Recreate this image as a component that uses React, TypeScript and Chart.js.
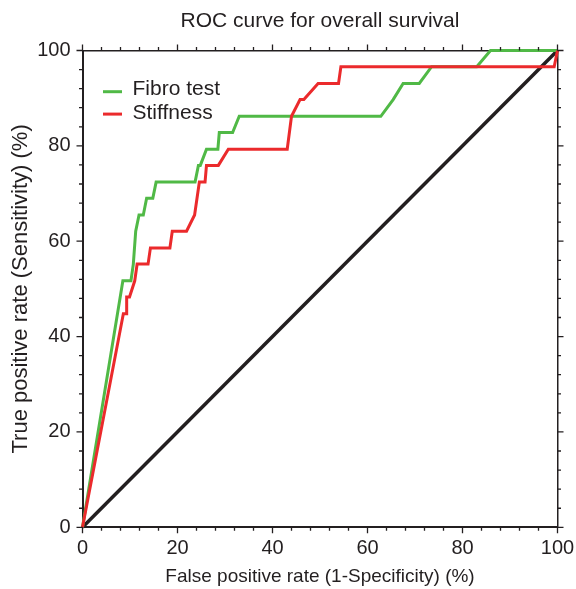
import { useEffect, useRef } from 'react';
import { Chart, registerables } from 'chart.js';

Chart.register(...registerables);

const chartTitle = 'ROC curve for overall survival';
const xAxisTitle = 'False positive rate (1-Specificity) (%)';
const yAxisTitle = 'True positive rate (Sensitivity) (%)';

const fibroLabel = 'Fibro test';
const fibroFpr = [0, 8.5, 10.2, 10.7, 11.2, 11.9, 12.8, 13.5, 14.8, 15.5, 23.7, 24.4, 24.8, 26.1, 28.5, 28.8, 31.6, 33.0, 62.8, 65.4, 67.5, 70.9, 73.5, 83.0, 85.9, 100];
const fibroTpr = [0, 51.7, 51.7, 55.2, 62.1, 65.5, 65.5, 69.0, 69.0, 72.4, 72.4, 75.9, 75.9, 79.3, 79.3, 82.8, 82.8, 86.2, 86.2, 89.7, 93.1, 93.1, 96.6, 96.6, 100, 100];

const stiffLabel = 'Stiffness';
const stiffFpr = [0, 8.6, 9.2, 9.3, 9.9, 11.0, 11.5, 13.8, 14.3, 18.4, 18.9, 21.9, 23.6, 24.6, 25.8, 26.1, 28.6, 30.7, 43.1, 44.0, 45.8, 46.6, 49.6, 53.9, 54.4, 99.3, 100];
const stiffTpr = [0, 44.8, 44.8, 48.3, 48.3, 51.7, 55.2, 55.2, 58.6, 58.6, 62.1, 62.1, 65.5, 72.4, 72.4, 75.9, 75.9, 79.3, 79.3, 86.2, 89.7, 89.7, 93.1, 93.1, 96.6, 96.6, 100];

const refFpr = [0, 100];
const refTpr = [0, 100];

const majorTicks = [0, 20, 40, 60, 80, 100];
const allTicks = [0, 4, 8, 12, 16, 20, 24, 28, 32, 36, 40, 44, 48, 52, 56, 60, 64, 68, 72, 76, 80, 84, 88, 92, 96, 100];

const INK = '#231f20';
const GREEN = '#50b946';
const RED = '#eb2a2c';
const FONT = "'Liberation Sans', Arial, Helvetica, sans-serif";

const toPoints = (xs: number[], ys: number[]) => xs.map((x, i) => ({ x, y: ys[i] }));

const boxTicksPlugin = {
  id: 'boxTicks',
  afterDraw(chart: any) {
    const { ctx, chartArea: a, scales } = chart;
    const xs = scales.x;
    const ys = scales.y;
    ctx.save();
    ctx.strokeStyle = INK;
    ctx.lineWidth = 1.3;
    ctx.beginPath();
    for (const v of allTicks) {
      const len = majorTicks.includes(v) ? 6 : 3.5;
      const px = xs.getPixelForValue(v);
      const py = ys.getPixelForValue(v);
      ctx.moveTo(px, a.bottom); ctx.lineTo(px, a.bottom + len);
      ctx.moveTo(px, a.top); ctx.lineTo(px, a.top - len);
      ctx.moveTo(a.left, py); ctx.lineTo(a.left - len, py);
      ctx.moveTo(a.right, py); ctx.lineTo(a.right + len, py);
    }
    ctx.stroke();

    // legend inside plot area
    const items = [chart.data.datasets[0], chart.data.datasets[1]];
    ctx.font = `21px ${FONT}`;
    ctx.textBaseline = 'alphabetic';
    ctx.textAlign = 'left';
    items.forEach((ds: any, i: number) => {
      const yLine = a.top + 41.2 + i * 22.4;
      ctx.strokeStyle = ds.borderColor;
      ctx.lineWidth = 3;
      ctx.beginPath();
      ctx.moveTo(a.left + 20.5, yLine);
      ctx.lineTo(a.left + 39.5, yLine);
      ctx.stroke();
      ctx.fillStyle = INK;
      ctx.fillText(ds.label, a.left + 50, a.top + 44.5 + i * 23.8);
    });
    ctx.restore();
  },
};

export default function App() {
  const canvasRef = useRef<HTMLCanvasElement | null>(null);

  useEffect(() => {
    if (!canvasRef.current) return;
    Chart.defaults.font.family = FONT;
    Chart.defaults.color = INK;
    const chart = new Chart(canvasRef.current, {
      type: 'line',
      data: {
        datasets: [
          {
            label: fibroLabel,
            data: toPoints(fibroFpr, fibroTpr),
            borderColor: GREEN,
            backgroundColor: GREEN,
            borderWidth: 3,
            pointRadius: 0,
            tension: 0,
            fill: false,
            clip: false,
            order: 1,
          },
          {
            label: stiffLabel,
            data: toPoints(stiffFpr, stiffTpr),
            borderColor: RED,
            backgroundColor: RED,
            borderWidth: 3,
            pointRadius: 0,
            tension: 0,
            fill: false,
            clip: false,
            order: 0,
          },
          {
            label: 'Reference',
            data: toPoints(refFpr, refTpr),
            borderColor: INK,
            backgroundColor: INK,
            borderWidth: 3.5,
            pointRadius: 0,
            tension: 0,
            fill: false,
            clip: false,
            order: 2,
          },
        ],
      },
      options: {
        animation: false,
        responsive: true,
        maintainAspectRatio: false,
        layout: { padding: 0 },
        plugins: {
          legend: { display: false },
          tooltip: { enabled: false },
          title: {
            display: true,
            text: chartTitle,
            fullSize: false,
            color: INK,
            font: { size: 21, weight: 'normal', family: FONT, lineHeight: 1.2 },
            padding: { top: 8.7, bottom: 0 },
          },
        },
        scales: {
          x: {
            type: 'linear',
            position: 'bottom',
            min: 0,
            max: 100,
            afterBuildTicks: (s: any) => { s.ticks = majorTicks.map((v) => ({ value: v })); },
            ticks: { font: { size: 20, family: FONT, lineHeight: 1.2 }, color: INK, padding: 9, maxRotation: 0, autoSkip: false },
            grid: { display: false, drawTicks: false },
            border: { display: true, color: INK, width: 2 },
            title: { display: true, text: xAxisTitle, color: INK, font: { size: 19, family: FONT, lineHeight: 1.2 }, padding: { top: 0, bottom: 0.5 } },
            afterFit: (s: any) => { s.height = 61.7; s.paddingLeft = 0; s.paddingRight = 0; },
          },
          y: {
            type: 'linear',
            position: 'left',
            min: 0,
            max: 100,
            afterBuildTicks: (s: any) => { s.ticks = majorTicks.map((v) => ({ value: v })); },
            ticks: { font: { size: 20, family: FONT, lineHeight: 1.2 }, color: INK, padding: 12, autoSkip: false },
            grid: { display: false, drawTicks: false },
            border: { display: true, color: INK, width: 2 },
            title: { display: true, text: yAxisTitle, color: INK, font: { size: 22, family: FONT, lineHeight: 1.2 }, padding: { top: 8, bottom: 0 } },
            afterFit: (s: any) => { s.width = 82.5; s.paddingTop = 0; s.paddingBottom = 0; },
          },
          x2: {
            type: 'linear',
            position: 'top',
            min: 0,
            max: 100,
            ticks: { display: false },
            grid: { display: false, drawTicks: false },
            border: { display: true, color: INK, width: 1.5 },
            afterFit: (s: any) => { s.height = 16.6; s.paddingLeft = 0; s.paddingRight = 0; },
          },
          y2: {
            type: 'linear',
            position: 'right',
            min: 0,
            max: 100,
            ticks: { display: false },
            grid: { display: false, drawTicks: false },
            border: { display: true, color: INK, width: 1.5 },
            afterFit: (s: any) => { s.width = 18.5; s.paddingTop = 0; s.paddingBottom = 0; },
          },
        },
      } as any,
      plugins: [boxTicksPlugin],
    });
    return () => chart.destroy();
  }, []);

  return (
    <div style={{ position: 'fixed', left: 0, top: 0, width: 576, height: 589, background: '#ffffff' }}>
      <canvas ref={canvasRef} />
    </div>
  );
}
